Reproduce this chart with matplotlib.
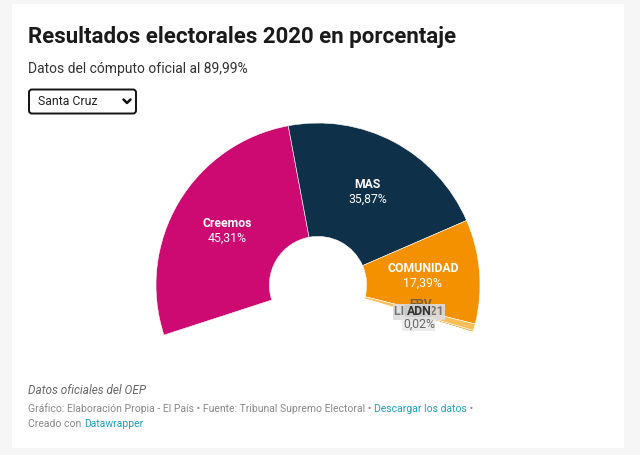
import matplotlib
matplotlib.use("Agg")
import matplotlib.pyplot as plt
from matplotlib.patches import FancyBboxPatch, Rectangle
import numpy as np

plt.rcParams['font.family'] = ['Roboto', 'DejaVu Sans']

# datos
partidos = ["Creemos", "MAS", "COMUNIDAD", "FPV", "LIBRE 21", "ADN"]
porcentajes = [45.31, 35.87, 17.39, 1.12, 0.29, 0.02]
colores = ["#cc0a72", "#0f3049", "#f39100", "#fbbf59", "#e9a53c", "#b0b0b0"]
etiquetas = ["45,31%", "35,87%", "17,39%", "", "", "0,02%"]

titulo = "Resultados electorales 2020 en porcentaje"
subtitulo = "Datos del cómputo oficial al 89,99%"
region = "Santa Cruz"

arco = 215.0      # grados que ocupa el semi-donut
inicio = 198.0

W, H = 640, 455
fig = plt.figure(figsize=(W / 100, H / 100), dpi=100)
fig.patch.set_facecolor("#f6f6f6")

# fondo de la tarjeta
bg = fig.add_axes([0, 0, 1, 1])
bg.set_xlim(0, W)
bg.set_ylim(H, 0)
bg.axis("off")
bg.add_patch(Rectangle((12, 4), 612, 444, facecolor="white", edgecolor="none"))

bg.text(28, 37, titulo, fontsize=16, fontweight="bold", color="#1a1a1a", va="center", ha="left")
bg.text(28, 69, subtitulo, fontsize=10, color="#333333", va="center", ha="left")

# selector
bg.add_patch(FancyBboxPatch((29, 89.5), 107, 24, boxstyle="round,pad=0,rounding_size=3",
                            facecolor="white", edgecolor="#111111", linewidth=1.4))
bg.text(38, 101.5, region, fontsize=8.8, color="#222222", va="center", ha="left")
bg.plot([123.5, 127, 130.5], [99.5, 103, 99.5], color="#111111", lw=1.8, solid_capstyle="round")

# donut
cx, cy, R = 318, 285, 162
ax = fig.add_axes([(cx - R) / W, (H - cy - R) / H, 2 * R / W, 2 * R / H])

total = sum(porcentajes)
relleno = total * (360 - arco) / arco
wedges, _ = ax.pie(porcentajes + [relleno], colors=colores + ["none"], startangle=inicio,
                   counterclock=False, radius=1,
                   wedgeprops=dict(width=0.70, edgecolor="white", linewidth=0.4))
wedges[-1].set_edgecolor("none")
ax.set_xlim(-1, 1)
ax.set_ylim(-1, 1)
ax.axis("off")

rl = 0.65
for w, nombre, lab in zip(wedges[:3], partidos[:3], etiquetas[:3]):
    a = np.deg2rad((w.theta1 + w.theta2) / 2)
    x, y = rl * np.cos(a), rl * np.sin(a)
    ax.text(x, y + 0.045, nombre, ha="center", va="center", fontsize=8.8,
            fontweight="bold", color="white")
    ax.text(x, y - 0.045, lab, ha="center", va="center", fontsize=8.8, color="white")

# etiquetas pequeñas superpuestas
a = np.deg2rad((wedges[3].theta1 + wedges[5].theta2) / 2)
x, y = rl * np.cos(a), rl * np.sin(a)
ax.text(x + 0.01, y + 0.065, partidos[3], ha="center", va="center", fontsize=8.8,
        fontweight="bold", color="#555555", alpha=0.8)
ax.text(x, y + 0.02, partidos[4], ha="center", va="center", fontsize=8.8,
        fontweight="bold", color="#777777",
        bbox=dict(boxstyle="square,pad=0.1", facecolor="#dddddd", edgecolor="none", alpha=0.9))
ax.text(x, y + 0.02, partidos[5], ha="center", va="center", fontsize=8.8,
        fontweight="bold", color="#333333",
        bbox=dict(boxstyle="square,pad=0.1", facecolor="#cfcfcf", edgecolor="none", alpha=0.9))
ax.text(x, y - 0.055, etiquetas[5], ha="center", va="center", fontsize=8.8,
        color="#666666", bbox=dict(boxstyle="square,pad=0.05", facecolor="#e4e4e4",
                                   edgecolor="none", alpha=0.7))

# pie de página
bg.text(28, 390, "Datos oficiales del OEP", fontsize=8.5, style="italic", color="#666666",
        va="center", ha="left")
pie = [("Gráfico: Elaboración Propia - El País • Fuente: Tribunal Supremo Electoral • ", "#888888"),
       ("Descargar los datos", "#1d9ec0"), (" •", "#888888")]
t = None
for s, c in pie:
    if t is None:
        t = bg.text(28, 409, s, fontsize=7.5, color=c, va="center", ha="left")
    else:
        t = bg.annotate(s, xycoords=t, xy=(1, 0), va="bottom", ha="left", fontsize=7.5, color=c)
t = bg.text(28, 424, "Creado con ", fontsize=7.5, color="#888888", va="center", ha="left")
bg.annotate("Datawrapper", xycoords=t, xy=(1, 0), va="bottom", ha="left", fontsize=7.5, color="#1d9ec0")

fig.savefig("out.png", dpi=100, facecolor=fig.get_facecolor())
